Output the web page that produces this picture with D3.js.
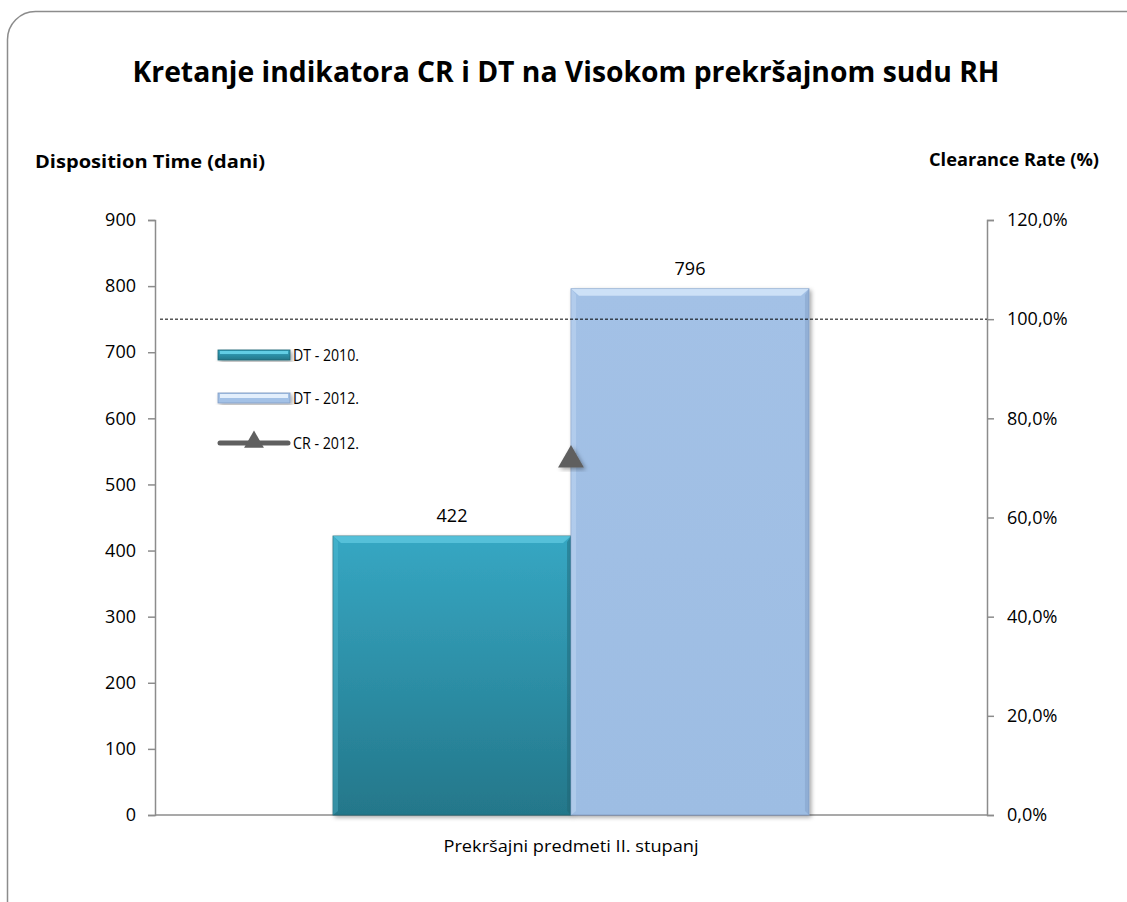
<!DOCTYPE html>
<html>
<head>
  <meta charset="utf-8">
  <title>Kretanje indikatora CR i DT</title>
  <script src="https://cdn.jsdelivr.net/npm/d3@7"></script>
  <style>
    body { margin: 0; background: #fff; }
    text { font-family: "Open Sans", "Noto Sans", sans-serif; fill: #000; }
  </style>
</head>
<body>
<script>
  // podaci
  const categories = ["Prekršajni predmeti II. stupanj"];
  const seriesNames = ["DT - 2010.", "DT - 2012.", "CR - 2012."];
  const dt2010 = [422];
  const dt2012 = [796];
  const cr2012 = [71.6];
  const leftTicks = [0, 100, 200, 300, 400, 500, 600, 700, 800, 900];
  const rightTicks = [0, 20, 40, 60, 80, 100, 120];
  const targetCR = 100;

  const W = 1127, H = 902;
  const plot = { left: 155, right: 987, top: 220, bottom: 815 };

  const svg = d3.select("body").append("svg")
    .attr("width", W).attr("height", H);

  const defs = svg.append("defs");
  const g1 = defs.append("linearGradient").attr("id", "g2010")
    .attr("x1", 0).attr("y1", 0).attr("x2", 0).attr("y2", 1);
  g1.append("stop").attr("offset", "0%").attr("stop-color", "#36a7c3");
  g1.append("stop").attr("offset", "100%").attr("stop-color", "#24778a");
  const g2 = defs.append("linearGradient").attr("id", "g2012")
    .attr("x1", 0).attr("y1", 0).attr("x2", 0).attr("y2", 1);
  g2.append("stop").attr("offset", "0%").attr("stop-color", "#a3c1e6");
  g2.append("stop").attr("offset", "100%").attr("stop-color", "#9dbde3");
  const sh = defs.append("filter").attr("id", "shadow")
    .attr("x", "-10%").attr("y", "-10%").attr("width", "130%").attr("height", "130%");
  sh.append("feDropShadow").attr("dx", 2).attr("dy", 2).attr("stdDeviation", 2)
    .attr("flood-color", "#000").attr("flood-opacity", 0.35);

  // okvir
  svg.append("rect")
    .attr("x", 7.5).attr("y", 11.5).attr("width", W + 20).attr("height", H + 20)
    .attr("rx", 28).attr("fill", "#fff").attr("stroke", "#8c8c8c").attr("stroke-width", 1.5);

  // naslov
  svg.append("text")
    .attr("x", 566).attr("y", 82)
    .attr("text-anchor", "middle")
    .attr("textLength", 867).attr("lengthAdjust", "spacingAndGlyphs")
    .style("font-size", "28px").style("font-weight", "bold")
    .text("Kretanje indikatora CR i DT na Visokom prekršajnom sudu RH");

  const y = d3.scaleLinear().domain([0, 900]).range([plot.bottom, plot.top]);
  const y2 = d3.scaleLinear().domain([0, 120]).range([plot.bottom, plot.top]);
  const x0 = d3.scaleBand().domain(categories).range([plot.left, plot.right]);
  const x1 = d3.scaleBand().domain(["DT - 2010.", "DT - 2012."])
    .range([0, x0.bandwidth()]).paddingOuter(0.748);

  // osi
  const leftAxis = d3.axisLeft(y).tickValues(leftTicks).tickSize(7).tickPadding(12)
    .tickFormat(d3.format("d"));
  const gl = svg.append("g").attr("transform", `translate(${plot.left},0)`).call(leftAxis);
  const rightAxis = d3.axisRight(y2).tickValues(rightTicks).tickSize(7).tickPadding(13)
    .tickFormat(d => d3.format(".1f")(d).replace(".", ",") + "%");
  const gr = svg.append("g").attr("transform", `translate(${plot.right},0)`).call(rightAxis);
  [gl, gr].forEach(g => {
    g.select(".domain").attr("stroke", "#8c8c8c").attr("stroke-width", 1.5);
    g.selectAll(".tick line").attr("stroke", "#8c8c8c").attr("stroke-width", 1.5);
    g.selectAll(".tick text").style("font-size", "18px").style("font-family", "'Open Sans', sans-serif").attr("fill", "#000");
  });

  // x os
  svg.append("line")
    .attr("x1", plot.left).attr("x2", plot.right)
    .attr("y1", plot.bottom).attr("y2", plot.bottom)
    .attr("stroke", "#8c8c8c").attr("stroke-width", 1.5);
  svg.selectAll(".cat").data(categories).enter().append("text")
    .attr("x", d => x0(d) + x0.bandwidth() / 2).attr("y", 852)
    .attr("text-anchor", "middle").style("font-size", "17px")
    .attr("textLength", 255).attr("lengthAdjust", "spacingAndGlyphs")
    .text(d => d);

  // stupci
  const bars = [
    { name: "DT - 2010.", values: dt2010, fill: "url(#g2010)", hi: "#5cc7df", edge: "#1d6474" },
    { name: "DT - 2012.", values: dt2012, fill: "url(#g2012)", hi: "#d7e8fb", edge: "#7f9cc4" }
  ];
  bars.forEach(s => {
    categories.forEach((c, i) => {
      const bx = x0(c) + x1(s.name), bw = x1.bandwidth();
      const by = y(s.values[i]), bh = plot.bottom - by;
      const g = svg.append("g").attr("filter", "url(#shadow)");
      g.append("rect").attr("x", bx).attr("y", by).attr("width", bw).attr("height", bh)
        .attr("fill", s.fill).attr("stroke", s.edge).attr("stroke-width", 0.8);
      // kosi rub (bevel)
      g.append("polygon")
        .attr("points", `${bx},${by} ${bx + bw},${by} ${bx + bw - 8},${by + 7} ${bx + 8},${by + 7}`)
        .attr("fill", s.hi).attr("opacity", 0.8);
      g.append("polygon")
        .attr("points", `${bx},${by} ${bx + 5},${by + 6} ${bx + 5},${by + bh - 4} ${bx},${by + bh}`)
        .attr("fill", s.hi).attr("opacity", 0.3);
      g.append("polygon")
        .attr("points", `${bx + bw},${by} ${bx + bw},${by + bh} ${bx + bw - 4},${by + bh - 4} ${bx + bw - 4},${by + 6}`)
        .attr("fill", s.edge).attr("opacity", 0.45);
      svg.append("text")
        .attr("x", bx + bw / 2).attr("y", by - 14)
        .attr("text-anchor", "middle").style("font-size", "18px")
        .text(s.values[i]);
    });
  });

  // ciljna linija 100%
  svg.append("line")
    .attr("x1", 160).attr("x2", plot.right)
    .attr("y1", y2(targetCR)).attr("y2", y2(targetCR))
    .attr("stroke", "#000").attr("stroke-width", 1).attr("stroke-dasharray", "3,2");

  // CR marker
  const tri = d3.symbol().type(d3.symbolTriangle).size(290);
  svg.selectAll(".cr").data(cr2012).enter().append("path")
    .attr("d", tri)
    .attr("transform", (d, i) => `translate(${x0(categories[i]) + x0.bandwidth() / 2},${y2(d)})`)
    .attr("fill", "#5f5f5f").attr("filter", "url(#shadow)");

  // legenda
  const lg = svg.append("g").attr("transform", "translate(218,0)");
  const rows = [355, 398, 443];
  lg.append("rect").attr("x", 0).attr("y", rows[0] - 5).attr("width", 72).attr("height", 10)
    .attr("fill", "url(#g2010)").attr("stroke", "#1d6474").attr("stroke-width", 0.8).attr("filter", "url(#shadow)");
  lg.append("rect").attr("x", 2).attr("y", rows[0] - 4).attr("width", 68).attr("height", 3).attr("fill", "#62cde4");
  lg.append("rect").attr("x", 0).attr("y", rows[1] - 5).attr("width", 72).attr("height", 10)
    .attr("fill", "#a3c1e6").attr("stroke", "#7f9cc4").attr("stroke-width", 0.8).attr("filter", "url(#shadow)");
  lg.append("rect").attr("x", 2).attr("y", rows[1] - 4).attr("width", 68).attr("height", 4).attr("fill", "#e3effc");
  lg.append("line").attr("x1", 2).attr("x2", 70).attr("y1", rows[2]).attr("y2", rows[2])
    .attr("stroke", "#5f5f5f").attr("stroke-width", 5).attr("stroke-linecap", "round");
  lg.append("path").attr("d", d3.symbol().type(d3.symbolTriangle).size(170))
    .attr("transform", `translate(36,${rows[2] - 1})`).attr("fill", "#5f5f5f");
  seriesNames.forEach((n, i) => {
    lg.append("text").attr("x", 75).attr("y", rows[i] + 6)
      .style("font-size", "17px").attr("textLength", 66).attr("lengthAdjust", "spacingAndGlyphs")
      .text(n);
  });

  // naslovi osi
  svg.append("text").attr("x", 35).attr("y", 168)
    .style("font-size", "17px").style("font-weight", "bold")
    .attr("textLength", 230).attr("lengthAdjust", "spacingAndGlyphs")
    .text("Disposition Time (dani)");
  svg.append("text").attr("x", 1099).attr("y", 166).attr("text-anchor", "end")
    .style("font-size", "17px").style("font-weight", "bold")
    .attr("textLength", 170).attr("lengthAdjust", "spacingAndGlyphs")
    .text("Clearance Rate (%)");
</script>
</body>
</html>
